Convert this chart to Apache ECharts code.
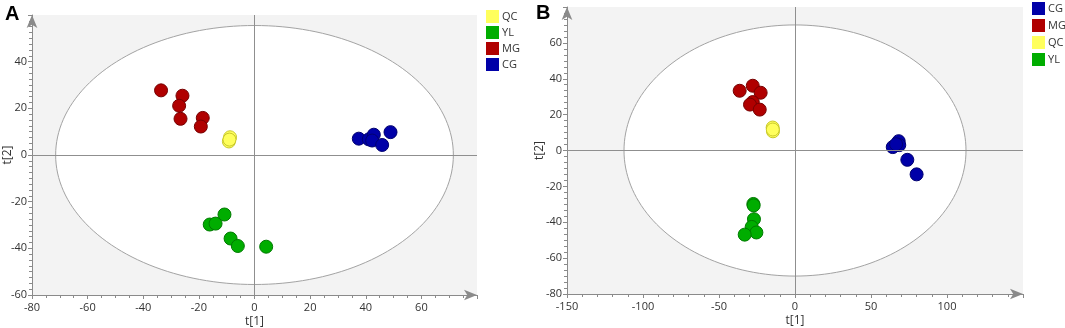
<!DOCTYPE html>
<html>
<head>
<meta charset="utf-8">
<script src="https://cdn.jsdelivr.net/npm/echarts@6/dist/echarts.min.js"></script>
<style>
  html, body { margin: 0; padding: 0; background: #fff; }
  #chart { width: 1065px; height: 328px; }
</style>
</head>
<body>
<div id="chart"></div>
<script>
// score values, [t1, t2]
const aQC = [[-8.8, 7.6], [-9.2, 5.8], [-9.0, 6.6]];
const aYL = [[-16.1, -29.8], [-14.0, -29.4], [-10.8, -25.5], [-8.6, -35.8], [-6.0, -39.0], [4.2, -39.3]];
const aMG = [[-33.6, 27.7], [-25.9, 25.4], [-27.1, 21.1], [-26.6, 15.5], [-18.6, 15.9], [-19.3, 12.2]];
const aCG = [[37.5, 7.0], [41.1, 6.7], [42.9, 8.7], [42.3, 6.2], [45.9, 4.3], [48.9, 9.8]];

const bCG = [[64.3, 1.9], [68.2, 5.2], [68.6, 3.0], [73.9, -5.2], [80.0, -13.3], [66.5, 3.5]];
const bMG = [[-36.4, 33.3], [-27.8, 36.1], [-22.6, 32.2], [-27.8, 27.0], [-29.6, 25.6], [-23.2, 22.8]];
const bQC = [[-14.7, 12.8], [-14.5, 10.7], [-14.6, 11.7]];
const bYL = [[-27.4, -29.8], [-27.0, -38.3], [-28.5, -42.6], [-25.4, -45.7], [-33.1, -46.9], [-27.2, -30.6]];

// Hotelling T2 ellipse semi-axes [t1, t2]
const ellipseA = [71.5, 55.5];
const ellipseB = [112.5, 70];

const legendA = ['QC', 'YL', 'MG', 'CG'];
const legendB = ['CG', 'MG', 'QC', 'YL'];

const colors = {
    QC: ['#ffff5c', '#c9c92a'],
    YL: ['#00ad00', '#007a00'],
    MG: ['#b00000', '#760000'],
    CG: ['#0000a8', '#000070']
};

const font = 'Open Sans, Noto Sans, sans-serif';
const axisGray = '#8a8a8a';

function makeX(idx, min, max, interval, minorSplit) {
    return {
        gridIndex: idx, type: 'value', min: min, max: max, interval: interval,
        name: 't[1]', nameLocation: 'middle', nameGap: 21, nameMoveOverlap: false,
        nameTextStyle: { color: '#333', fontSize: 12, fontFamily: font },
        axisLine: { show: true, onZero: false, symbol: ['none', 'arrow'], symbolSize: [8, 13],
            lineStyle: { color: axisGray, width: 1 } },
        axisTick: { show: true, length: 4, lineStyle: { color: axisGray } },
        minorTick: { show: true, splitNumber: minorSplit, length: 3, lineStyle: { color: axisGray } },
        axisLabel: { color: '#333', fontSize: 11, fontFamily: font, margin: 7, showMaxLabel: false },
        splitLine: { show: false }
    };
}

function makeY(idx, min, max, interval, minorSplit, gap) {
    return {
        gridIndex: idx, type: 'value', min: min, max: max, interval: interval,
        name: 't[2]', nameLocation: 'middle', nameGap: gap, nameMoveOverlap: false,
        nameTextStyle: { color: '#333', fontSize: 12, fontFamily: font },
        axisLine: { show: true, onZero: false, symbol: ['none', 'arrow'], symbolSize: [8, 13],
            lineStyle: { color: axisGray, width: 1 } },
        axisTick: { show: true, length: 4, lineStyle: { color: axisGray } },
        minorTick: { show: true, splitNumber: minorSplit, length: 3, lineStyle: { color: axisGray } },
        axisLabel: { color: '#333', fontSize: 11, fontFamily: font, margin: 5, showMaxLabel: false },
        splitLine: { show: false }
    };
}

function ellipseSeries(idx, radii) {
    return {
        type: 'custom', xAxisIndex: idx, yAxisIndex: idx, silent: true, z: 1,
        data: [[0, 0]],
        renderItem: function (params, api) {
            const pts = [];
            for (let i = 0; i < 180; i++) {
                const t = i / 180 * Math.PI * 2;
                pts.push(api.coord([radii[0] * Math.cos(t), radii[1] * Math.sin(t)]));
            }
            return {
                type: 'polygon',
                shape: { points: pts },
                style: { fill: '#fff', stroke: '#a3a3a3', lineWidth: 1 }
            };
        }
    };
}

function crossSeries(idx) {
    return {
        type: 'scatter', xAxisIndex: idx, yAxisIndex: idx, data: [], z: 2, silent: true,
        markLine: {
            silent: true, symbol: 'none', animation: false,
            label: { show: false },
            lineStyle: { color: '#8f8f8f', type: 'solid', width: 1 },
            data: [{ xAxis: 0 }, { yAxis: 0 }]
        }
    };
}

function pointSeries(idx, name, data) {
    return {
        name: name, type: 'scatter', xAxisIndex: idx, yAxisIndex: idx, z: 3,
        symbolSize: 13, data: data,
        itemStyle: { color: colors[name][0], borderColor: colors[name][1], borderWidth: 1, opacity: 1 }
    };
}

function legendOf(names, left, top, gap) {
    return {
        data: names, orient: 'vertical', left: left, top: top,
        icon: 'rect', itemWidth: 13, itemHeight: 13, itemGap: gap,
        selectedMode: false,
        itemStyle: { borderWidth: 0 },
        textStyle: { color: '#333', fontSize: 11, fontFamily: font, padding: [0, 0, 0, -2] },
        padding: 0
    };
}

const chart = echarts.init(document.getElementById('chart'));
chart.setOption({
    animation: false,
    backgroundColor: '#fff',
    grid: [
        { left: 32, top: 15, width: 445, height: 280, show: true, backgroundColor: '#f3f3f3', borderWidth: 0,
          containLabel: false, outerBoundsMode: 'none' },
        { left: 567, top: 7, width: 456, height: 287, show: true, backgroundColor: '#f3f3f3', borderWidth: 0,
          containLabel: false, outerBoundsMode: 'none' }
    ],
    xAxis: [makeX(0, -80, 80, 20, 4), makeX(1, -150, 150, 50, 5)],
    yAxis: [makeY(0, -60, 60, 20, 8, 18), makeY(1, -80, 80, 20, 6, 21)],
    legend: [legendOf(legendA, 486, 10, 3), legendOf(legendB, 1032, 2, 4)],
    graphic: [
        { type: 'text', left: 5, top: 4, style: { text: 'A', fontSize: 20, fontWeight: 'bold', fontFamily: 'Liberation Sans, Arial, sans-serif', fill: '#000' } },
        { type: 'text', left: 536, top: 3, style: { text: 'B', fontSize: 20, fontWeight: 'bold', fontFamily: 'Liberation Sans, Arial, sans-serif', fill: '#000' } }
    ],
    series: [
        ellipseSeries(0, ellipseA),
        crossSeries(0),
        pointSeries(0, 'QC', aQC),
        pointSeries(0, 'YL', aYL),
        pointSeries(0, 'MG', aMG),
        pointSeries(0, 'CG', aCG),
        ellipseSeries(1, ellipseB),
        crossSeries(1),
        pointSeries(1, 'CG', bCG),
        pointSeries(1, 'MG', bMG),
        pointSeries(1, 'QC', bQC),
        pointSeries(1, 'YL', bYL)
    ]
});
</script>
</body>
</html>
